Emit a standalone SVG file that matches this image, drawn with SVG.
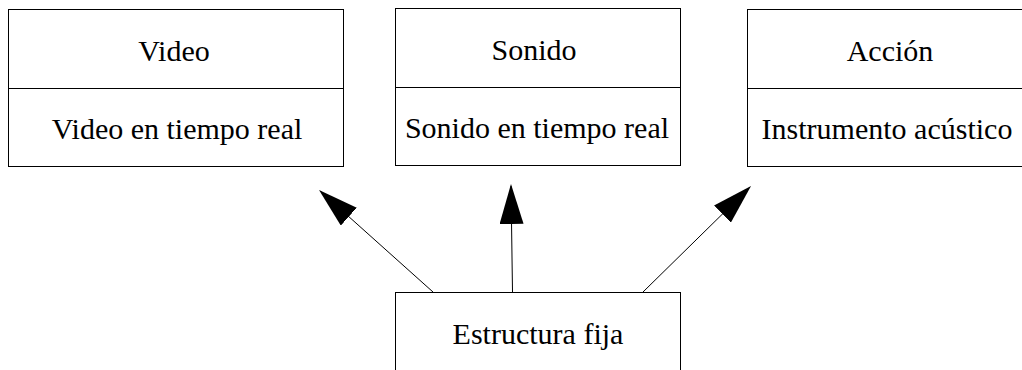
<svg xmlns="http://www.w3.org/2000/svg" width="1022" height="370" viewBox="0 0 1022 370">
<style>
.box{fill:#fff;stroke:#000;stroke-width:1}
.div{stroke:#000;stroke-width:1}
.t{font-family:"Liberation Serif","Times New Roman",serif;font-size:30px;fill:#000;text-anchor:middle}
.conn{stroke:#000;stroke-width:1;fill:none}
</style>
<defs>
<marker id="ah" markerUnits="userSpaceOnUse" viewBox="0 0 40 24" refX="38" refY="12" markerWidth="40" markerHeight="24" orient="auto">
<path d="M0,0 L40,12 L0,24 Z" fill="#000"/>
</marker>
</defs>
<rect width="1022" height="370" fill="#fff"/>
<g id="video">
<rect class="box" x="8.5" y="9.5" width="335" height="157"/>
<line class="div" x1="8.5" y1="88.5" x2="343.5" y2="88.5"/>
<text class="t" x="174" y="61">Video</text>
<text class="t" x="177" y="139">Video en tiempo real</text>
</g>
<g id="sonido">
<rect class="box" x="395.5" y="8.5" width="285" height="157"/>
<line class="div" x1="395.5" y1="87.5" x2="680.5" y2="87.5"/>
<text class="t" x="534" y="60">Sonido</text>
<text class="t" x="537" y="138">Sonido en tiempo real</text>
</g>
<g id="accion">
<rect class="box" x="747.5" y="9.5" width="285" height="157"/>
<line class="div" x1="747.5" y1="88.5" x2="1032" y2="88.5"/>
<text class="t" x="890" y="61">Acción</text>
<text class="t" x="887" y="139">Instrumento acústico</text>
</g>
<g id="estructura">
<rect class="box" x="395.5" y="292.5" width="285" height="100"/>
<text class="t" x="538" y="344">Estructura fija</text>
</g>
<g id="connectors">
<line class="conn" x1="433" y1="292" x2="320.5" y2="191.3" marker-end="url(#ah)"/>
<line class="conn" x1="512.5" y1="292" x2="511" y2="186" marker-end="url(#ah)"/>
<line class="conn" x1="643" y1="292" x2="749.6" y2="187.4" marker-end="url(#ah)"/>
</g>
</svg>
